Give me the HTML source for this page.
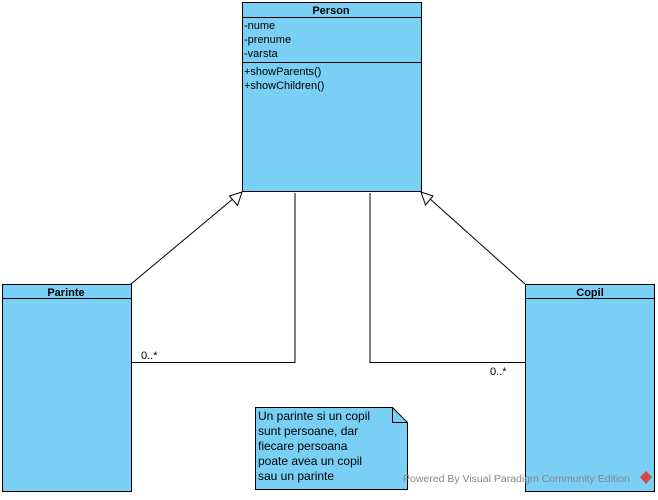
<!DOCTYPE html>
<html><head><style>
body{margin:0;width:658px;height:495px;background:#fff;overflow:hidden;font-family:"Liberation Sans",sans-serif;}
</style></head><body>
<svg width="658" height="495" xmlns="http://www.w3.org/2000/svg" font-family="Liberation Sans, sans-serif" font-size="11">
<g stroke="#000" fill="#7ACFF5">
<rect x="242.5" y="2.5" width="179" height="189"/>
<line x1="242" y1="17.5" x2="421" y2="17.5"/>
<line x1="242" y1="62.5" x2="421" y2="62.5"/>
<rect x="2.5" y="284.5" width="129" height="207"/>
<line x1="2" y1="298.5" x2="131" y2="298.5"/>
<rect x="525.5" y="284.5" width="129" height="207"/>
<line x1="525" y1="298.5" x2="654" y2="298.5"/>
<path d="M255.5 407.5 H392.5 L407.5 422.5 V489.5 H255.5 Z"/>
<path d="M392.5 407.5 V422.5 H407.5" fill="none"/>
</g>
<g stroke="#000" fill="none">
<line x1="131" y1="284" x2="234" y2="198"/>
<line x1="525" y1="284" x2="429" y2="198"/>
<polyline points="295,193 295,362.5 131,362.5"/>
<polyline points="370,193 370,362.5 525,362.5"/>
</g>
<polygon points="242,192 229.5,196 237.5,205.5" fill="#fff" stroke="#000"/>
<polygon points="421,192 425.5,205 433,196" fill="#fff" stroke="#000"/>
<g font-weight="bold" text-anchor="middle">
<text x="331" y="14">Person</text>
<text x="66" y="296">Parinte</text>
<text x="590" y="296">Copil</text>
</g>
<text x="244" y="29">-nume</text>
<text x="244" y="43">-prenume</text>
<text x="244" y="57">-varsta</text>
<text x="244" y="75">+showParents()</text>
<text x="244" y="89">+showChildren()</text>
<text x="141" y="359">0..*</text>
<text x="490" y="375">0..*</text>
<g font-size="12">
<text x="258" y="420">Un parinte si un copil</text>
<text x="258" y="435">sunt persoane, dar</text>
<text x="258" y="450">fiecare persoana</text>
<text x="258" y="465">poate avea un copil</text>
<text x="258" y="480">sau un parinte</text>
</g>
<text x="403" y="482" fill="#888" font-size="10.5">Powered By Visual Paradigm Community Edition</text>
<polygon points="646,471 652,477 646,484 640,477" fill="#d84a4a"/>
</svg>
</body></html>
